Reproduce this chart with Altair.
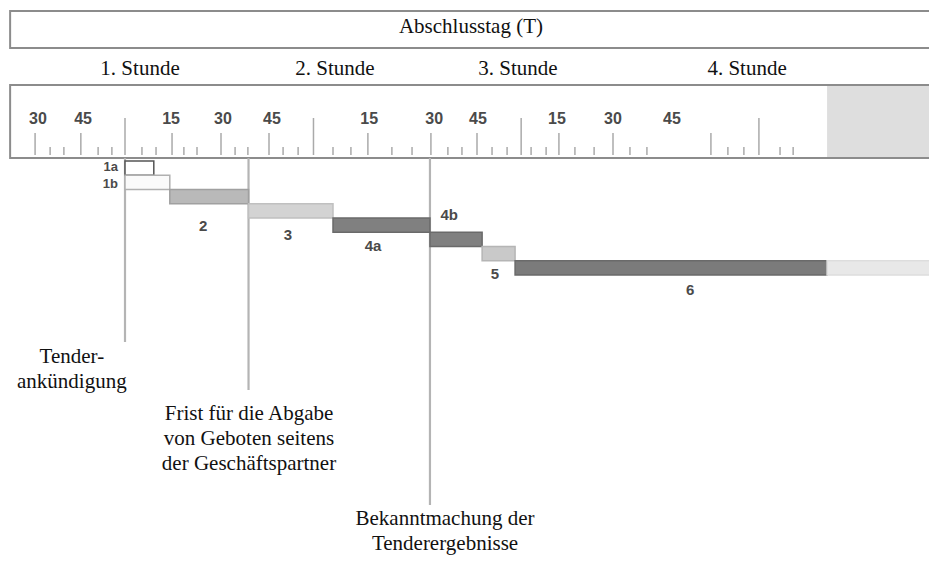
import altair as alt
import pandas as pd

# ---------------- values ----------------
# time axis in minutes, 0 = Tenderankündigung
title_text = "Abschlusstag (T)"
title_minute = 108.1

hour_labels = ["1. Stunde", "2. Stunde", "3. Stunde", "4. Stunde"]
hour_label_minute = [4.7, 65.6, 122.8, 194.4]

tick_minute = [-28.1, -23.4, -19.1, -13.8, -8.4, -4.1, 0, 5.3, 9.7, 14.7, 18.4, 22.5,
               30, 34.4, 38.4, 45, 49.4, 54.1, 58.9, 65, 70.6, 75.9, 83.4, 89.7,
               95.6, 100.9, 105.3, 110, 114.7, 119.4, 123.8, 126.9, 131.6, 135.6,
               140.6, 146.6, 152.5, 157.8, 163.1, 183.1, 188.4, 193.4, 198.1,
               204.7, 208.8]
tick_kind = ["m", "s", "s", "m", "s", "s", "t", "s", "s", "m", "s", "s",
             "m", "s", "s", "m", "s", "s", "t", "s", "s", "m", "s", "s",
             "m", "s", "s", "m", "s", "s", "t", "s", "s", "m",
             "s", "s", "m", "s", "s", "m", "s", "s", "t",
             "s", "s"]

scale_label_text = ["30", "45", "15", "30", "45", "15", "30", "45", "15", "30", "45"]
scale_label_minute = [-27.2, -13.1, 14.4, 30.6, 45.9, 76.3, 96.6, 110.3, 135.0, 152.5, 170.9]

closed_from_minute = 219.4

step_key = ["1a", "1b", "2", "3", "4a", "4b", "5", "6", "6+"]
step_row = [0, 1, 2, 3, 4, 5, 6, 7, 7]
step_start = [0, 0, 14, 38.6, 65, 95.3, 111.6, 121.9, 219.4]
step_end = [9, 14, 38.6, 65, 95.3, 111.6, 121.9, 219.4, 252]

step_labels = ["1a", "1b", "2", "3", "4a", "4b", "5", "6"]
step_label_minute = [-2.2, -2.2, 24.4, 50.9, 77.5, 101.3, 115.6, 176.6]
step_label_row = [0.42, 1.6, 4.55, 5.2, 5.95, 3.8, 7.9, 9.05]

event_minute = [0, 38.6, 95.3]
event_lines = [["Tender-", "ankündigung"],
               ["Frist für die Abgabe", "von Geboten seitens", "der Geschäftspartner"],
               ["Bekanntmachung der", "Tenderergebnisse"]]
event_text_minute = [-16.6, 38.75, 100.0]

# ---------------- layout (picture rows) ----------------
W, H = 921, 547
X_DOMAIN = [-36.5625, 251.25]
xs = alt.Scale(domain=X_DOMAIN, range=[0, W])
ys = alt.Scale(domain=[8, 8 + H], range=[0, H])          # layout rows
rows = alt.Scale(domain=[0, 8], range=[153, 267])          # process steps

BOX_LEFT, BOX_RIGHT = -35.9, 262
TITLE_BOX = (11, 48)
RULER_BOX = (85, 158)
TITLE_BASE, HOUR_BASE = 33, 75
SCALE_LABEL_Y = 119
TICK_BOTTOM = 155
TICK_TOP = {"t": 118, "m": 133, "s": 147}
EVENT_TOP = 158
EVENT_END = [342, 390, 505]
EVENT_BASE = [363, 420, 525]
LINE_GAP = 25

SERIF = "Liberation Serif"
SANS = "Liberation Sans"

fills = ["#ffffff", "#fafafa", "#b9b9b9", "#d3d3d3", "#808080", "#808080",
         "#c9c9c9", "#7b7b7b", "#e8e8e8"]
strokes = ["#555555", "#b0b0b0", "#a0a0a0", "#c0c0c0", "#6a6a6a", "#6a6a6a",
           "#b5b5b5", "#6a6a6a", "#dddddd"]

# ---------------- tables ----------------
boxes_df = pd.DataFrame({"x": [BOX_LEFT, BOX_LEFT], "x2": [BOX_RIGHT, BOX_RIGHT],
                         "y": [TITLE_BOX[0], RULER_BOX[0]], "y2": [TITLE_BOX[1], RULER_BOX[1]]})
closed_df = pd.DataFrame({"x": [closed_from_minute], "x2": [BOX_RIGHT],
                          "y": [RULER_BOX[0] + 1], "y2": [RULER_BOX[1] - 1]})
ticks_df = pd.DataFrame({"x": tick_minute,
                         "y": [TICK_TOP[k] for k in tick_kind],
                         "y2": [TICK_BOTTOM] * len(tick_minute)})
scale_lab_df = pd.DataFrame({"x": scale_label_minute, "label": scale_label_text,
                             "y": [SCALE_LABEL_Y] * len(scale_label_text)})
header_df = pd.DataFrame({"x": [title_minute] + hour_label_minute,
                          "label": [title_text] + hour_labels,
                          "y": [TITLE_BASE] + [HOUR_BASE] * len(hour_labels)})
event_df = pd.DataFrame({"x": event_minute, "y": [EVENT_TOP] * 3, "y2": EVENT_END})
ann_rows = []
for i, lines in enumerate(event_lines):
    for j, line in enumerate(lines):
        ann_rows.append({"x": event_text_minute[i], "label": line,
                         "y": EVENT_BASE[i] + j * LINE_GAP})
ann_df = pd.DataFrame(ann_rows)
bars_df = pd.DataFrame({"key": step_key, "start": step_start, "end": step_end,
                        "row": step_row, "row_end": [r + 1 for r in step_row]})
blab_df = pd.DataFrame({"label": step_labels, "x": step_label_minute, "row": step_label_row})
blab_left = blab_df[blab_df["label"].isin(["1a", "1b"])]
blab_center = blab_df[~blab_df["label"].isin(["1a", "1b"])]

X = lambda f="x": alt.X(f"{f}:Q", scale=xs, axis=None)
Y = lambda f="y": alt.Y(f"{f}:Q", scale=ys, axis=None)

closed = alt.Chart(closed_df).mark_rect(fill="#dedede", clip=True).encode(
    x=X(), x2="x2:Q", y=Y(), y2="y2:Q")
boxes = alt.Chart(boxes_df).mark_rect(fill="white", fillOpacity=0, stroke="#8c8c8c",
                                      strokeWidth=2, clip=True).encode(
    x=X(), x2="x2:Q", y=Y(), y2="y2:Q")
ticks = alt.Chart(ticks_df).mark_rule(color="#aaaaaa", strokeWidth=1.5).encode(
    x=X(), y=Y(), y2="y2:Q")
scale_labels = alt.Chart(scale_lab_df).mark_text(
    font=SANS, fontSize=16, fontWeight="bold", color="#4a4a4a", baseline="middle",
    align="center").encode(x=X(), y=Y(), text="label:N")
headers = alt.Chart(header_df).mark_text(
    font=SERIF, fontSize=21, color="#111111", baseline="alphabetic",
    align="center").encode(x=X(), y=Y(), text="label:N")
event_rules = alt.Chart(event_df).mark_rule(color="#b4b4b4", strokeWidth=2.2).encode(
    x=X(), y=Y(), y2="y2:Q")
annotations = alt.Chart(ann_df).mark_text(
    font=SERIF, fontSize=21, color="#111111", baseline="alphabetic",
    align="center").encode(x=X(), y=Y(), text="label:N")
bars = alt.Chart(bars_df).mark_rect(strokeWidth=1.5).encode(
    x=alt.X("start:Q", scale=xs, axis=None), x2="end:Q",
    y=alt.Y("row:Q", scale=rows, axis=None), y2="row_end:Q",
    fill=alt.Fill("key:N", scale=alt.Scale(domain=step_key, range=fills), legend=None),
    stroke=alt.Stroke("key:N", scale=alt.Scale(domain=step_key, range=strokes), legend=None))
bar_labels_left = alt.Chart(blab_left).mark_text(
    font=SANS, fontSize=13, fontWeight="bold", color="#4a4a4a", baseline="middle",
    align="right").encode(x=X(), y=alt.Y("row:Q", scale=rows, axis=None), text="label:N")
bar_labels = alt.Chart(blab_center).mark_text(
    font=SANS, fontSize=15, fontWeight="bold", color="#4a4a4a", baseline="middle",
    align="center").encode(x=X(), y=alt.Y("row:Q", scale=rows, axis=None), text="label:N")

chart = alt.layer(
    closed, boxes, ticks, scale_labels, headers, event_rules, annotations,
    bars, bar_labels_left, bar_labels
).resolve_scale(y="independent").properties(
    width=W, height=H, padding=0, autosize=alt.AutoSizeParams(type="none")
).configure_view(stroke=None)

chart.save("out.html", embed_options={"renderer": "svg", "actions": False})
